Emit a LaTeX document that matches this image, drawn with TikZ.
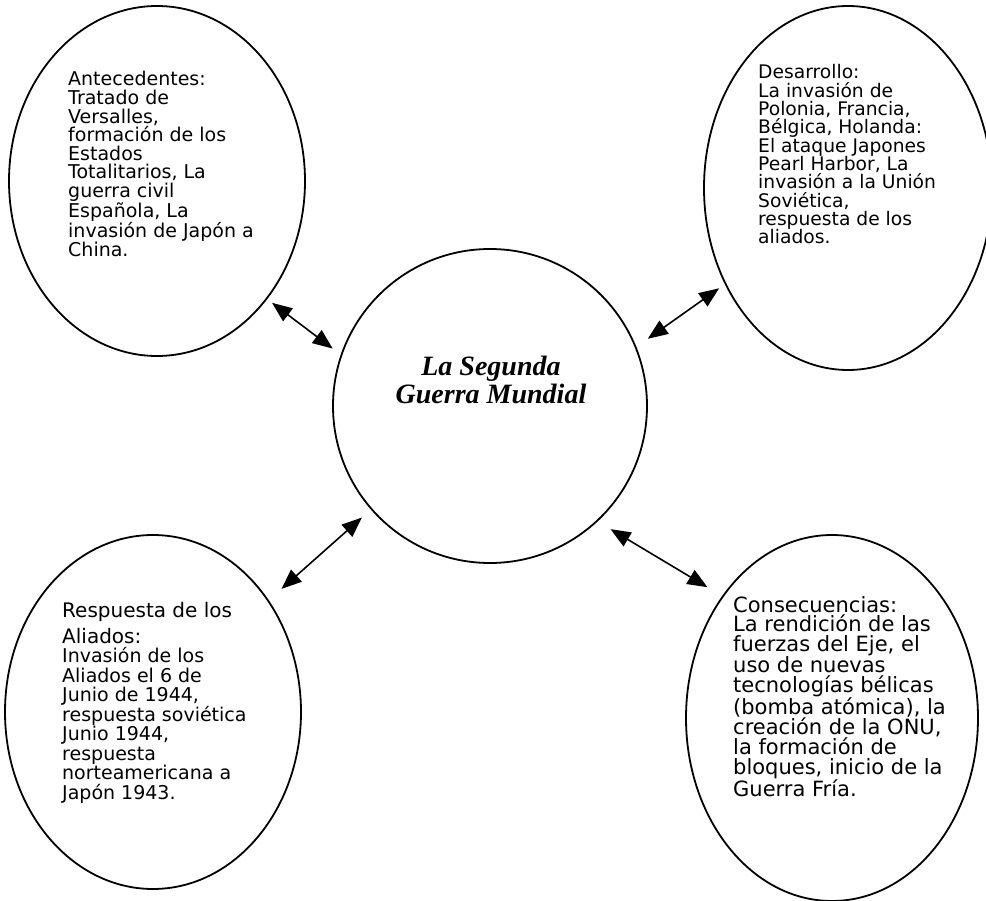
\documentclass[tikz,border=0pt]{standalone}
\usepackage{fontspec}
\setmainfont{DejaVu Sans}
\newfontfamily\titlefont{Liberation Serif}
\usetikzlibrary{shapes.geometric,arrows.meta}
\begin{document}
\begin{tikzpicture}[x=1pt,y=-1pt,
  topic/.style={ellipse, draw, line width=1.8pt, inner sep=0pt},
  hub/.style={circle, draw, line width=1.8pt, inner sep=0pt, minimum size=314pt},
  link/.style={{Triangle[length=20pt,width=16pt]}-{Triangle[length=20pt,width=16pt]}, line width=1.6pt},
  blurb/.style={anchor=base west, inner sep=0pt}]
\fill[white] (0,0) rectangle (986,901);
\clip (0,0) rectangle (986,901);

% central topic
\node[hub] (c) at (490,406) {};
\node[anchor=base, inner sep=0pt] (ctitle) at (491,376)
  {\parbox[t]{300pt}{\centering\titlefont\bfseries\itshape\fontsize{28}{27.5}\selectfont
   La Segunda\\Guerra Mundial}};

% surrounding topics
\node[topic, minimum width=296pt, minimum height=350pt] (tl) at (157,181) {};
\node[topic, minimum width=288pt, minimum height=364pt] (tr) at (848,188) {};
\node[topic, minimum width=296pt, minimum height=354pt] (bl) at (153,712) {};
\node[topic, minimum width=292pt, minimum height=366pt] (br) at (832,718) {};

% texts inside the topics
\node[blurb] (tlt) at (68,86) {\parbox[t]{240pt}{\fontsize{19}{18.6}\selectfont
  Antecedentes:\\
  Tratado de\\
  Versalles,\\
  formación de los\\
  Estados\\
  Totalitarios, La\\
  guerra civil\\
  Española, La\\
  invasión de Japón a\\
  China.}};

\node[blurb] (trt) at (758,79) {\parbox[t]{240pt}{\fontsize{18.7}{18.3}\selectfont
  Desarrollo:\\
  La invasión de\\
  Polonia, Francia,\\
  Bélgica, Holanda:\\
  El ataque Japones\\
  Pearl Harbor, La\\
  invasión a la Unión\\
  Soviética,\\
  respuesta de los\\
  aliados.}};

\node[blurb] (blt) at (62,617) {\parbox[t]{240pt}{\fontsize{19}{19.5}\selectfont
  {\fontsize{20}{19.5}\selectfont Respuesta de los}\\[6.5pt]
  {\fontsize{20}{19.5}\selectfont Aliados:}\\
  Invasión de los\\
  Aliados el 6 de\\
  Junio de 1944,\\
  respuesta soviética\\
  Junio 1944,\\
  respuesta\\
  norteamericana a\\
  Japón 1943.}};

\node[blurb] (brt) at (733,612) {\parbox[t]{260pt}{\fontsize{21}{19.8}\selectfont
  Consecuencias:\\
  La rendición de las\\
  fuerzas del Eje, el\\
  uso de nuevas\\
  tecnologías bélicas\\
  (bomba atómica), la\\
  creación de la ONU,\\
  la formación de\\
  bloques, inicio de la\\
  Guerra Fría.}};

% two-way links to the central topic
\draw[link, shorten <=6pt, shorten >=10pt] (tl.-47.2) -- (c.161.5);
\draw[link, shorten <=7pt, shorten >=14pt] (tr.218.3) -- (c.22.7);
\draw[link, shorten <=17pt, shorten >=12pt] (bl.44.8) -- (c.221.4);
\draw[link, shorten <=17pt, shorten >=15pt] (br.132.5) -- (c.-47.3);
\end{tikzpicture}
\end{document}
